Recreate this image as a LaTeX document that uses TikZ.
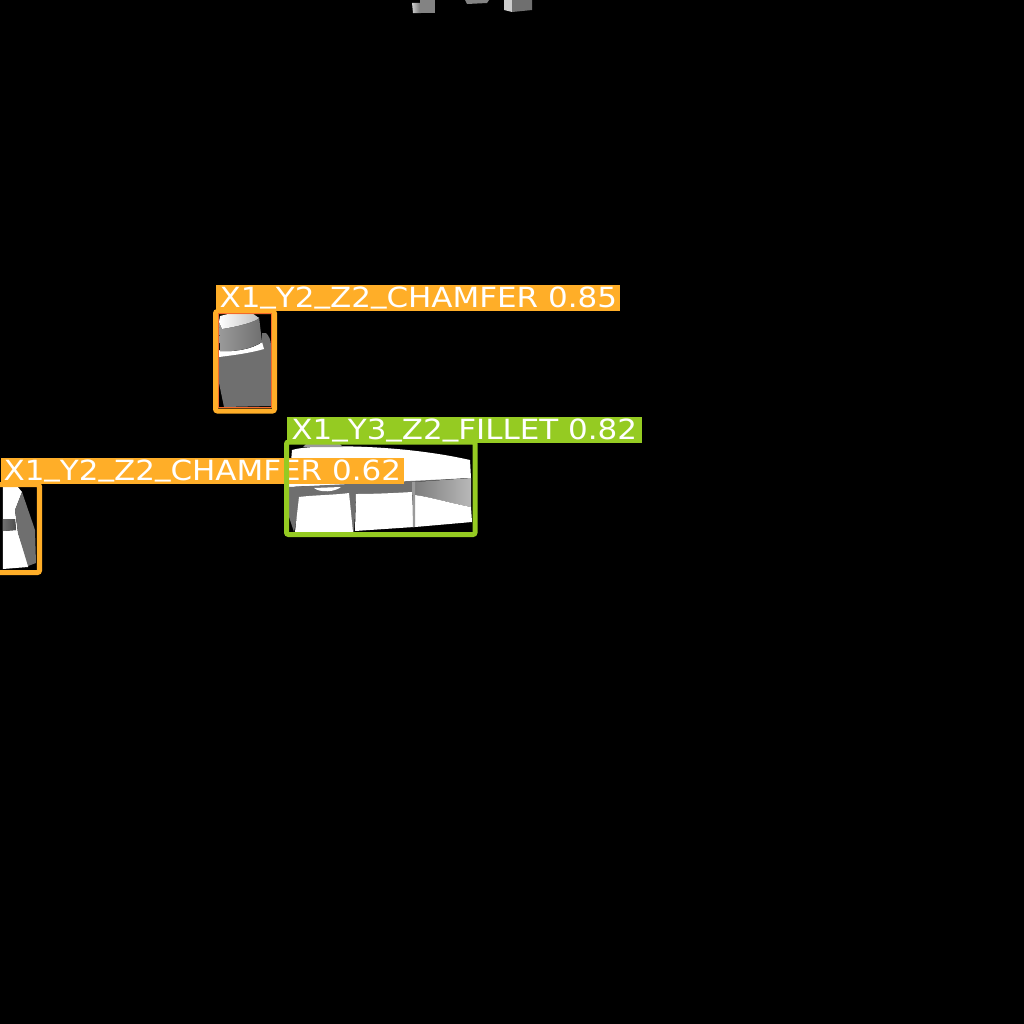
\documentclass[tikz,border=0pt]{standalone}
\usepackage{xcolor}
\usepackage{graphicx}
\usepackage{fontspec}
\setmainfont{DejaVu Sans}
\usepackage{tikz}
\definecolor{amber}{HTML}{FFAE28}
\definecolor{leaf}{HTML}{95CB22}
\definecolor{ember}{HTML}{F4692A}
\definecolor{steel}{HTML}{6F6F6F}
\definecolor{ash}{HTML}{9A9A9A}
\newcommand{\tagtext}[1]{\scalebox{1.115}[1]{#1}}
\newcommand{\lowbar}{\raisebox{0.17em}{\_}}

\begin{document}
\begin{tikzpicture}[x=0.01cm,y=-0.01cm,
  tag/.style={anchor=north west,inner sep=0pt,text=white,font=\fontsize{7.9}{8}\selectfont,
    minimum height=0.26cm,text height=0.21cm,text depth=0.01cm,align=center},
  frame/.style={line width=0.05cm,rounded corners=0.02cm},
  matte/.style={fill=steel},
  bright/.style={fill=white}]
\useasboundingbox[fill=black] (0,0) rectangle (1024,1024);
% top edge
\fill[left color=white!80!black,right color=steel] (412,3) -- (420,3) -- (421,13) -- (413,13) -- cycle;
\fill[ash!85!black] (420,0) rectangle (435,13);
\fill[ash!85!black] (465,0) -- (489,0) -- (487,3) -- (467,4) -- cycle;
\fill[white!80!black] (504,0) -- (512,0) -- (512,12) -- (504,10) -- cycle;
\fill[matte] (512,0) -- (532,0) -- (532,10) -- (512,12) -- cycle;
% first chamfer part
\fill[matte] (219,355) -- (262,345) -- (262,333) -- (266,333) .. controls (269,336) and (271,340) .. (271,346) -- (271,406) -- (224,407) -- (219,383) -- cycle;
\fill[bright] (219,350) .. controls (235,352) and (252,349) .. (262,342) -- (264,349) .. controls (250,353) and (235,355) .. (219,357) -- cycle;
\fill[left color=ash,right color=steel] (219,320) -- (259,317) -- (262,342) .. controls (252,349) and (235,352) .. (220,351) -- cycle;
\fill[left color=white,right color=white!75!black] (220,316) -- (232,313) -- (252,313) -- (259,318) .. controls (255,322) and (240,326) .. (222,329) -- (219,322) -- cycle;
\draw[frame,amber] (215.5,311.5) rectangle (274.5,411);
\draw[ember,line width=0.01cm] (218.5,313) rectangle (271.5,407.5);
\node[tag,fill=amber,minimum width=4.04cm] (chamferTop) at (215.5,284) {\tagtext{X1\lowbar Y2\lowbar Z2\lowbar CHAMFER 0.85}};
% fillet part
\fill[bright] (292,450) .. controls (310,444) and (400,444) .. (470,460) -- (471,478) -- (412,482) -- (289,487) -- cycle;
\fill[ash] (303,447) -- (343,447) -- (340,444) -- (306,444) -- cycle;
\fill[matte] (289,487) -- (471,478) -- (415,495) -- (356,497) -- (354,532) -- (301,497) -- (294,532) -- (289,517) -- cycle;
\fill[bright] (299,497) .. controls (315,495) and (335,495) .. (349,493) -- (353,532) -- (295,532) -- cycle;
\fill[bright] (356,494) .. controls (375,494) and (395,493) .. (412,492) -- (414,527) -- (355,531) -- cycle;
\fill[left color=steel!90!white,right color=ash!70!white] (415,482) -- (471,478) -- (471,507) .. controls (450,503) and (430,497) .. (415,495) -- cycle;
\fill[bright] (415,495) .. controls (430,497) and (450,503) .. (471,507) -- (472,522) -- (415,527) -- cycle;
\fill[ash] (412,482) -- (415,482) -- (415,527) -- (413,527) -- cycle;
\fill[bright] (314,488) -- (341,487) .. controls (335,492) and (320,493) .. (314,488) -- cycle;
% left part
\fill[bright] (3,486) -- (17,486) -- (22,492) -- (15,510) -- (18,533) -- (28,563) -- (28,567) -- (3,569) -- cycle;
\fill[matte] (22,492) -- (35,530) -- (36,563) -- (28,566) -- (18,533) -- (15,510) -- cycle;
\fill[left color=steel,right color=steel!70!black] (3,519) -- (15,519) -- (16,530) -- (3,531) -- cycle;
\draw[frame,amber] (-3,484.5) rectangle (39.5,572.5);
\node[tag,fill=amber,minimum width=4.03cm] (chamferLeft) at (0,457) {\tagtext{X1\lowbar Y2\lowbar Z2\lowbar CHAMFER 0.62}};
\draw[frame,leaf] (286.5,442) rectangle (475,534.5);
\node[tag,fill=leaf,minimum width=3.55cm] (filletTag) at (286,416) {\tagtext{X1\lowbar Y3\lowbar Z2\lowbar FILLET 0.82}};
\end{tikzpicture}
\end{document}
